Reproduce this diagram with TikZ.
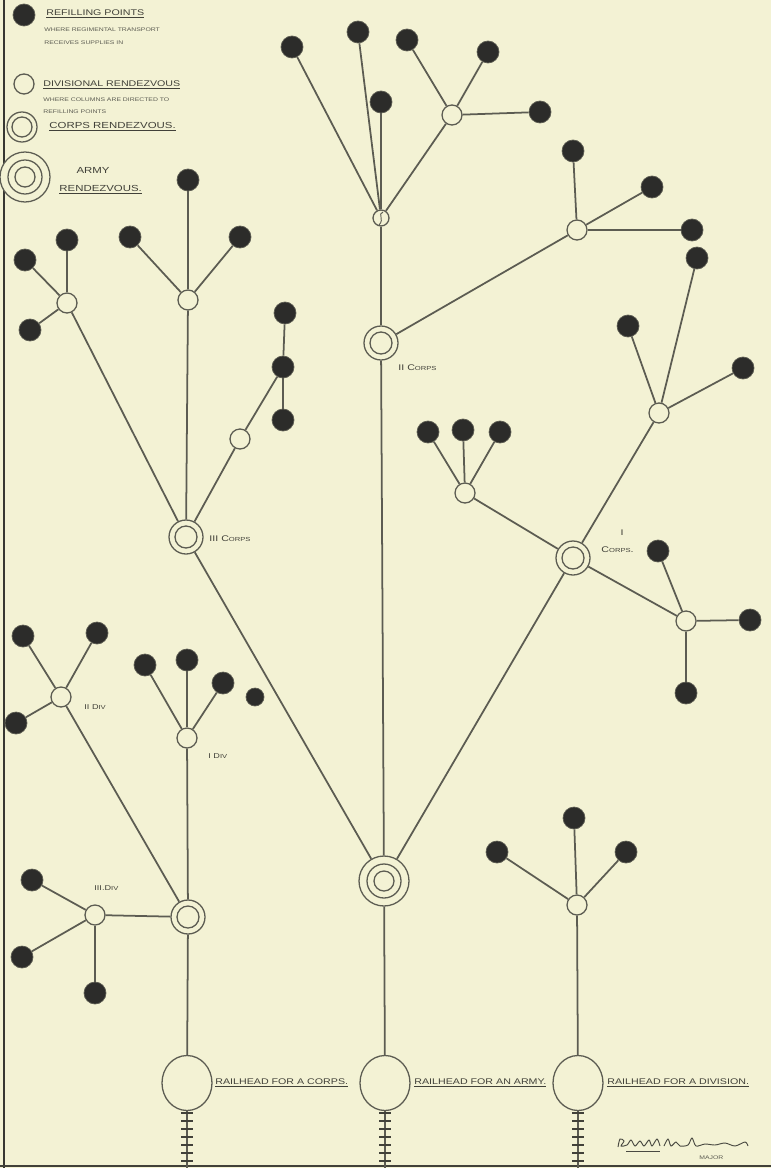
\documentclass[tikz,border=0pt]{standalone}
\usepackage{fontspec}
\setmainfont{Liberation Sans}
\newfontfamily\hand[FakeStretch=1.3]{Liberation Sans}
\usetikzlibrary{shapes.geometric}
\definecolor{paper}{RGB}{243,242,212}
\definecolor{ink}{RGB}{92,92,82}
\definecolor{blob}{RGB}{44,44,42}
\newcommand{\lsc}[1]{{\fontsize{5}{6}\selectfont #1}}
\begin{document}
\begin{tikzpicture}[x=0.3mm,y=-0.3mm]
  \tikzset{
    rp/.style={circle,fill=blob,draw=ink,line width=0.6pt,minimum size=6.6mm,inner sep=0pt},
    dr/.style={circle,draw=ink,fill=paper,line width=1.1pt,minimum size=6mm,inner sep=0pt},
    cr/.style={circle,draw=ink,fill=paper,line width=1.1pt,minimum size=10.2mm,inner sep=0pt,
      path picture={\draw[ink,line width=1.1pt] (path picture bounding box.center) circle (3.3mm);}},
    ar/.style={circle,draw=ink,fill=paper,line width=1.1pt,minimum size=15mm,inner sep=0pt,
      path picture={\draw[ink,line width=1.1pt] (path picture bounding box.center) circle (5.1mm) circle (3mm);}},
    rh/.style={ellipse,draw=ink,fill=paper,line width=1.1pt,minimum width=15mm,minimum height=16.5mm,inner sep=0pt},
    lbl/.style={font=\hand\fontsize{7}{8}\selectfont,text=ink!70!black,inner sep=1pt},
    sub/.style={font=\hand\fontsize{4.5}{5}\selectfont,text=ink,inner sep=1pt},
    ln/.style={ink,line width=1.5pt},
    tie/.style={ink!70!black,line width=1.6pt}
  }
  \useasboundingbox (0,0) rectangle (771,1168);
  \fill[paper] (0,0) rectangle (771,1168);
  \draw[ink!60!black,line width=1.8pt] (4,0)--(4,1168);
  \draw[ink!70!black,line width=1.5pt] (0,1166)--(771,1166);

  \node[rp] (k1) at (24,15) {};
  \node[lbl,anchor=west] at (45,14) {\underline{REFILLING POINTS}};
  \node[sub,anchor=west] at (43,30) {WHERE REGIMENTAL TRANSPORT};
  \node[sub,anchor=west] at (43,43) {RECEIVES SUPPLIES IN};
  \node[dr] (k2) at (24,84) {};
  \node[lbl,anchor=west] at (42,85) {\underline{DIVISIONAL RENDEZVOUS}};
  \node[sub,anchor=west] at (42,100) {WHERE COLUMNS ARE DIRECTED TO};
  \node[sub,anchor=west] at (42,112) {REFILLING POINTS};
  \node[cr,minimum size=9mm,path picture={\draw[ink,line width=1.1pt] (path picture bounding box.center) circle (3mm);}] (k3) at (22,127) {};
  \node[lbl,anchor=west,font=\hand\fontsize{7.5}{8}\selectfont] at (48,127) {\underline{CORPS RENDEZVOUS.}};
  \node[ar] (k4) at (25,177) {};
  \node[lbl,font=\hand\fontsize{7.5}{8}\selectfont] at (93,170) {ARMY};
  \node[lbl,anchor=west,font=\hand\fontsize{7.5}{8}\selectfont] at (58,190) {\underline{RENDEZVOUS.}};

  \node[ar] (army) at (384,881) {};
  \node[rh] (rhc) at (187,1083) {};
  \node[rh] (rha) at (385,1083) {};
  \node[rh] (rhd) at (578,1083) {};
  \coordinate (ec) at (187,1168);
  \coordinate (ea) at (385,1168);
  \coordinate (ed) at (578,1168);
  \node[lbl,anchor=west] at (214,1083) {\underline{RAILHEAD FOR A CORPS.}};
  \node[lbl,anchor=west] at (413,1083) {\underline{RAILHEAD FOR AN ARMY.}};
  \node[lbl,anchor=west] at (606,1083) {\underline{RAILHEAD FOR A DIVISION.}};

  \node[cr] (c2) at (381,343) {};
  \node[cr] (c3) at (186,537) {};
  \node[cr] (c1) at (573,558) {};
  \node[cr] (cc) at (188,917) {};
  \node[lbl,anchor=west] at (397,368) {II C\lsc{ORPS}};
  \node[lbl,anchor=west] at (208,539) {III C\lsc{ORPS}};
  \node[lbl] at (622,533) {I};
  \node[lbl,anchor=west] at (600,550) {C\lsc{ORPS}.};

  \node[dr,minimum size=4.8mm] (d2a) at (381,218) {};
  \node[dr] (d2b) at (452,115) {};
  \node[dr] (d2c) at (577,230) {};
  \node[dr] (d3a) at (67,303) {};
  \node[dr] (d3b) at (188,300) {};
  \node[dr] (d3c) at (240,439) {};
  \node[dr] (d1a) at (465,493) {};
  \node[dr] (d1b) at (659,413) {};
  \node[dr] (d1c) at (686,621) {};
  \node[dr] (dv1) at (187,738) {};
  \node[dr] (dv2) at (61,697) {};
  \node[dr] (dv3) at (95,915) {};
  \node[dr] (dd) at (577,905) {};
  \draw[ink,line width=0.8pt] (383,212) .. controls (377,214) and (385,219) .. (379,225);
  \node[lbl,anchor=west,font=\hand\fontsize{6}{7}\selectfont] at (83,707) {II D\lsc{IV}};
  \node[lbl,anchor=west,font=\hand\fontsize{6}{7}\selectfont] at (207,756) {I D\lsc{IV}};
  \node[lbl,anchor=west,font=\hand\fontsize{6}{7}\selectfont] at (93,888) {III.D\lsc{IV}};

  \node[rp] (p1) at (292,47) {};
  \node[rp] (p2) at (358,32) {};
  \node[rp] (p3) at (381,102) {};
  \node[rp] (p4) at (407,40) {};
  \node[rp] (p5) at (488,52) {};
  \node[rp] (p6) at (540,112) {};
  \node[rp] (p7) at (573,151) {};
  \node[rp] (p8) at (652,187) {};
  \node[rp] (p9) at (692,230) {};
  \node[rp] (q1) at (67,240) {};
  \node[rp] (q2) at (25,260) {};
  \node[rp] (q3) at (30,330) {};
  \node[rp] (q4) at (130,237) {};
  \node[rp] (q5) at (188,180) {};
  \node[rp] (q6) at (240,237) {};
  \node[rp] (q7) at (285,313) {};
  \node[rp] (q8) at (283,367) {};
  \node[rp] (q9) at (283,420) {};
  \node[rp] (s1) at (428,432) {};
  \node[rp] (s2) at (463,430) {};
  \node[rp] (s3) at (500,432) {};
  \node[rp] (s4) at (628,326) {};
  \node[rp] (s5) at (697,258) {};
  \node[rp] (s6) at (743,368) {};
  \node[rp] (s7) at (658,551) {};
  \node[rp] (s8) at (750,620) {};
  \node[rp] (s9) at (686,693) {};
  \node[rp] (t1) at (145,665) {};
  \node[rp] (t2) at (187,660) {};
  \node[rp] (t3) at (223,683) {};
  \node[rp] (t4) at (23,636) {};
  \node[rp] (t5) at (97,633) {};
  \node[rp] (t6) at (16,723) {};
  \node[rp] (t7) at (32,880) {};
  \node[rp] (t8) at (22,957) {};
  \node[rp] (t9) at (95,993) {};
  \node[rp,minimum size=5.4mm] (t0) at (255,697) {};
  \node[rp] (u1) at (497,852) {};
  \node[rp] (u2) at (574,818) {};
  \node[rp] (u3) at (626,852) {};

  \draw[ln] (rha)--(army); \draw[ln] (army)--(c2); \draw[ln] (army)--(c3); \draw[ln] (army)--(c1);
  \draw[ln] (rha)--(ea); \draw[ln] (rhc)--(ec); \draw[ln] (rhd)--(ed);
  \draw[ln] (c2)--(d2a); \draw[ln] (c2)--(d2c); \draw[ln] (d2a)--(d2b);
  \draw[ln] (d2a)--(p1); \draw[ln] (d2a)--(p2); \draw[ln] (d2a)--(p3);
  \draw[ln] (d2b)--(p4); \draw[ln] (d2b)--(p5); \draw[ln] (d2b)--(p6);
  \draw[ln] (d2c)--(p7); \draw[ln] (d2c)--(p8); \draw[ln] (d2c)--(p9);
  \draw[ln] (c3)--(d3a); \draw[ln] (c3)--(d3b); \draw[ln] (c3)--(d3c);
  \draw[ln] (d3a)--(q1); \draw[ln] (d3a)--(q2); \draw[ln] (d3a)--(q3);
  \draw[ln] (d3b)--(q4); \draw[ln] (d3b)--(q5); \draw[ln] (d3b)--(q6);
  \draw[ln] (d3c)--(q8); \draw[ln] (q7)--(q8); \draw[ln] (q8)--(q9);
  \draw[ln] (c1)--(d1a); \draw[ln] (c1)--(d1b); \draw[ln] (c1)--(d1c);
  \draw[ln] (d1a)--(s1); \draw[ln] (d1a)--(s2); \draw[ln] (d1a)--(s3);
  \draw[ln] (d1b)--(s4); \draw[ln] (d1b)--(s5); \draw[ln] (d1b)--(s6);
  \draw[ln] (d1c)--(s7); \draw[ln] (d1c)--(s8); \draw[ln] (d1c)--(s9);
  \draw[ln] (rhc)--(cc); \draw[ln] (cc)--(dv1); \draw[ln] (cc)--(dv2); \draw[ln] (cc)--(dv3);
  \draw[ln] (dv1)--(t1); \draw[ln] (dv1)--(t2); \draw[ln] (dv1)--(t3);
  \draw[ln] (dv2)--(t4); \draw[ln] (dv2)--(t5); \draw[ln] (dv2)--(t6);
  \draw[ln] (dv3)--(t7); \draw[ln] (dv3)--(t8); \draw[ln] (dv3)--(t9);
  \draw[ln] (rhd)--(dd);
  \draw[ln] (dd)--(u1); \draw[ln] (dd)--(u2); \draw[ln] (dd)--(u3);

  \foreach \x in {187,385,578}
    \foreach \y in {1113,1121,...,1161}
      \draw[tie] (\x-6,\y)--(\x+6,\y);

  \draw[ink!80!black,line width=0.8pt] plot[smooth] coordinates {(618,1147) (620,1139) (624,1141) (621,1146) (627,1145) (631,1140) (635,1146) (640,1141) (644,1146) (649,1140) (652,1146) (657,1139) (660,1146)};
  \draw[ink!80!black,line width=0.8pt] plot[smooth] coordinates {(664,1146) (668,1139) (671,1146) (676,1142) (680,1146) (688,1145) (692,1138) (696,1146) (705,1144) (715,1145) (725,1143) (735,1146) (745,1142) (748,1146)};
  \draw[ink!80!black,line width=0.7pt] (626,1151)--(660,1151);
  \node[sub,anchor=west] at (698,1158) {MAJOR};
\end{tikzpicture}
\end{document}
